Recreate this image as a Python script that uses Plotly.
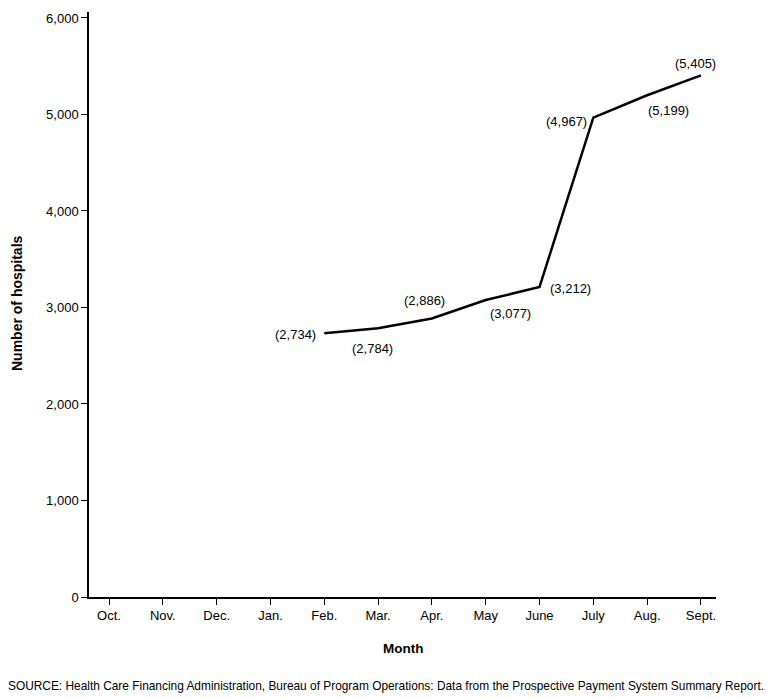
import plotly.graph_objects as go

months = ["Oct.", "Nov.", "Dec.", "Jan.", "Feb.", "Mar.", "Apr.", "May", "June", "July", "Aug.", "Sept."]
line_months = ["Feb.", "Mar.", "Apr.", "May", "June", "July", "Aug.", "Sept."]
hospitals = [2734, 2784, 2886, 3077, 3212, 4967, 5199, 5405]
y_ticks = [0, 1000, 2000, 3000, 4000, 5000, 6000]

# label placement offsets (pixels) per point
label_style = [
    dict(xanchor="right", xshift=-6, yshift=-1),
    dict(xanchor="center", xshift=-6, yshift=-20),
    dict(xanchor="center", xshift=-7, yshift=18),
    dict(xanchor="center", xshift=25, yshift=-13),
    dict(xanchor="left", xshift=8, yshift=-1),
    dict(xanchor="right", xshift=-4, yshift=-4),
    dict(xanchor="center", xshift=21, yshift=-15),
    dict(xanchor="center", xshift=-5, yshift=12),
]

FONT = "Liberation Sans, Arial, Helvetica, sans-serif"
idx = {m: i for i, m in enumerate(months)}

fig = go.Figure()
fig.add_trace(go.Scatter(
    x=[idx[m] for m in line_months], y=hospitals, mode="lines",
    line=dict(color="black", width=2.5), hoverinfo="skip", showlegend=False,
))

annotations = []
for m, v, st in zip(line_months, hospitals, label_style):
    annotations.append(dict(
        x=idx[m], y=v, xref="x", yref="y", text=f"({v:,})", showarrow=False,
        yanchor="middle", font=dict(size=13, color="black", family=FONT), **st,
    ))

annotations.append(dict(
    x=-0.116, y=0.503, xref="paper", yref="paper", text="<b>Number of hospitals</b>",
    textangle=-90, showarrow=False, xanchor="center", yanchor="middle",
    font=dict(size=14, color="black", family=FONT),
))
annotations.append(dict(
    x=-0.132, y=-0.152, xref="paper", yref="paper",
    text="SOURCE: Health Care Financing Administration, Bureau of Program Operations: Data from the Prospective Payment System Summary Report.",
    showarrow=False, xanchor="left", yanchor="middle",
    font=dict(size=11.9, color="black", family=FONT),
))
annotations.append(dict(
    x=0.5, y=-0.0875, xref="paper", yref="paper", text="<b>Month</b>",
    showarrow=False, xanchor="center", yanchor="middle",
    font=dict(size=13.5, color="black", family=FONT),
))

fig.update_layout(
    width=779, height=699,
    margin=dict(l=89, r=63, t=12, b=102),
    paper_bgcolor="white", plot_bgcolor="white",
    font=dict(family=FONT, color="black", size=13),
    annotations=annotations,
    xaxis=dict(
        range=[-0.372, 11.28], tickmode="array",
        tickvals=list(range(len(months))), ticktext=months,
        showgrid=False, zeroline=False, showline=True, linecolor="black", linewidth=1.5,
        ticks="outside", ticklen=6, tickwidth=1.2, tickcolor="black",
        tickfont=dict(size=13, color="black", family=FONT),
    ),
    yaxis=dict(
        range=[0, 6062], tickmode="array", tickvals=y_ticks,
        ticktext=[f"{t:,}" for t in y_ticks],
        showgrid=False, zeroline=False, showline=True, linecolor="black", linewidth=1.5,
        ticks="outside", ticklen=6, tickwidth=1.2, tickcolor="black",
        tickfont=dict(size=13, color="black", family=FONT),
    ),
)

fig.write_html(
    "out.html",
    config={"displayModeBar": False},
    post_script="document.body.style.margin='0';document.body.style.overflow='hidden';",
)
